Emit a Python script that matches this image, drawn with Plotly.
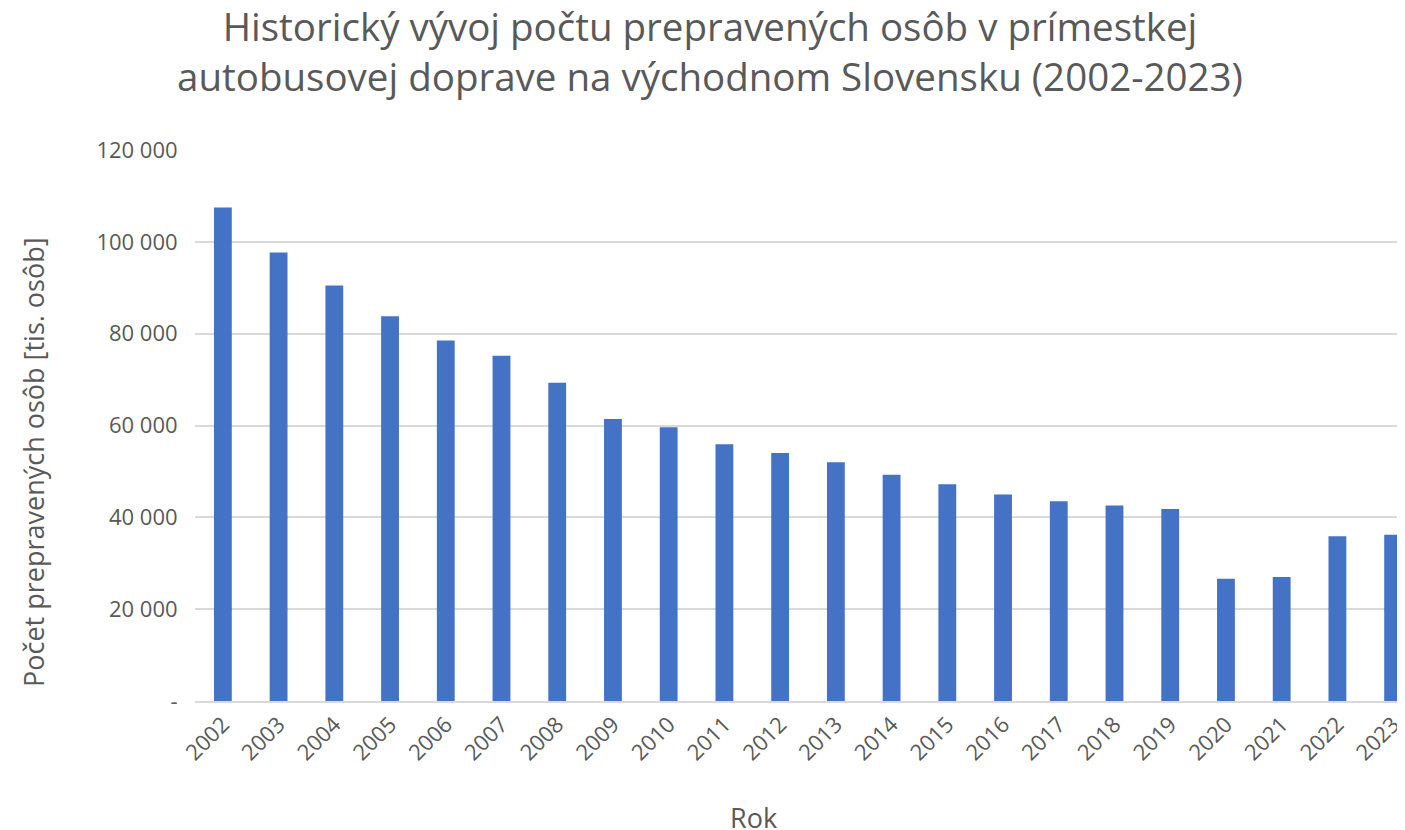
import plotly.graph_objects as go

years = [str(y) for y in range(2002, 2024)]
passengers = [107500, 97700, 90500, 83800, 78500, 75200, 69300, 61400, 59600, 55900,
              54000, 52000, 49300, 47200, 45000, 43500, 42600, 41800, 26600, 27000,
              35900, 36200]
y_tick_vals = [0, 20000, 40000, 60000, 80000, 100000, 120000]
y_tick_text = ["-", "20 000", "40 000", "60 000", "80 000", "100 000", "120 000"]

title_text = "Historický vývoj počtu prepravených osôb v prímestkej<br>autobusovej doprave na východnom Slovensku (2002-2023)"
x_title = "Rok"
y_title = "Počet prepravených osôb [tis. osôb]"

# page body has an 8px margin, so the figure is sized to fit the 1405x830 window
W, H = 1397, 822
L, R, T, B = 187, 0, 142, 129
plot_w = W - L - R
plot_h = H - T - B
x_max = 21.213  # plot area is cropped at the right, as in the reference

fig = go.Figure(go.Bar(x=years, y=passengers, marker_color="#4472C4", marker_line_width=0))

fig.update_layout(
    width=W, height=H,
    paper_bgcolor="white", plot_bgcolor="white",
    font=dict(family="Open Sans", color="#595959"),
    title=dict(text=title_text, x=702 / W, xanchor="center", xref="container",
               y=1 - 33.2 / H, yanchor="top", yref="container",
               font=dict(size=38.5, color="#595959")),
    margin=dict(l=L, r=R, t=T, b=B),
    bargap=0.68,
    showlegend=False,
    annotations=[
        dict(text=y_title, textangle=-90, xref="paper", yref="paper",
             x=0, y=239 / plot_h, xanchor="center", yanchor="middle",
             xshift=25 - L, showarrow=False, font=dict(size=27, color="#595959")),
        dict(text=x_title, xref="paper", yref="paper",
             x=(745 - L) / plot_w * (x_max + 0.5) / (x_max + 0.5), y=0,
             xanchor="center", yanchor="middle",
             yshift=-116, showarrow=False, font=dict(size=27, color="#595959")),
    ],
)
fig.update_xaxes(
    type="category", range=[-0.5, x_max], tickangle=-45, tickfont=dict(size=22, color="#595959"),
    showline=True, linecolor="#d9d9d9", linewidth=2, ticks="", automargin=False,
)
fig.update_yaxes(
    range=[0, 120000], tickvals=y_tick_vals, ticktext=y_tick_text,
    tickfont=dict(size=22, color="#595959"),
    showgrid=True, gridcolor="#d9d9d9", gridwidth=1.5, zeroline=False,
    ticks="outside", ticklen=12, tickcolor="white", automargin=False,
)

fig.write_html("out.html")
